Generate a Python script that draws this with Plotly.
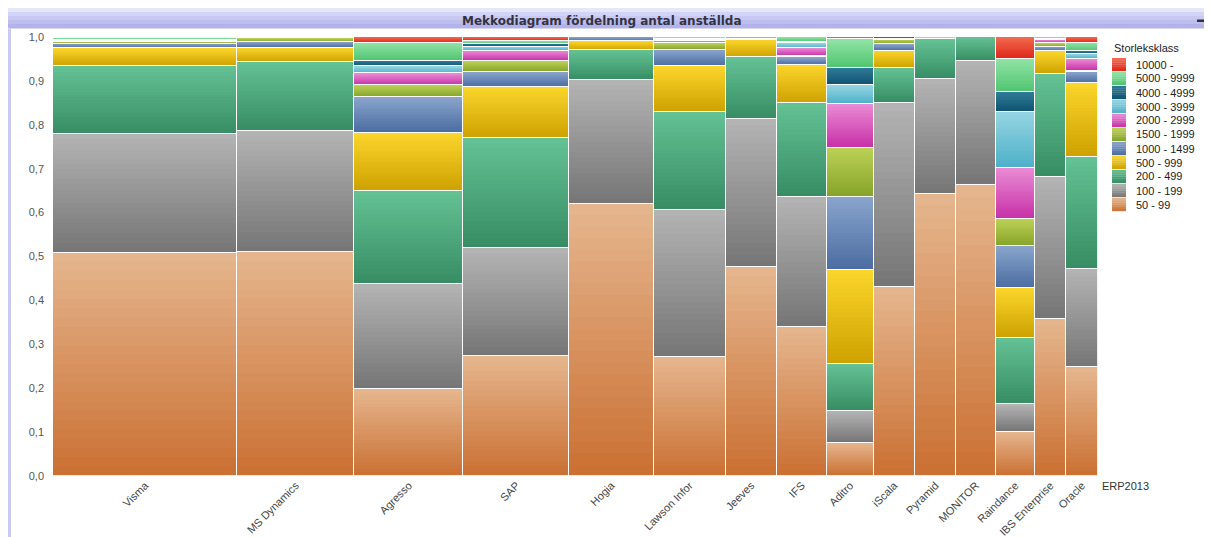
import plotly.graph_objects as go

# ---------------- data ----------------
categories = ["Visma", "MS Dynamics", "Agresso", "SAP", "Hogia", "Lawson Infor",
              "Jeeves", "IFS", "Aditro", "iScala", "Pyramid", "MONITOR",
              "Raindance", "IBS Enterprise", "Oracle"]
# column widths (number of companies per ERP system)
widths = [184, 117, 109, 106, 84, 72, 51, 50, 47, 41, 41, 40, 39, 31, 32]

size_classes = ["50 - 99", "100 - 199", "200 - 499", "500 - 999", "1000 - 1499",
                "1500 - 1999", "2000 - 2999", "3000 - 3999", "4000 - 4999",
                "5000 - 9999", "10000 -"]

# share of each size class within each ERP column (same order as categories)
s_50_99     = [0.509, 0.511, 0.198, 0.273, 0.620, 0.271, 0.475, 0.340, 0.076, 0.431, 0.643, 0.664, 0.101, 0.357, 0.248]
s_100_199   = [0.269, 0.275, 0.239, 0.246, 0.282, 0.335, 0.338, 0.295, 0.072, 0.419, 0.261, 0.282, 0.062, 0.323, 0.223]
s_200_499   = [0.156, 0.157, 0.212, 0.250, 0.068, 0.224, 0.141, 0.214, 0.106, 0.080, 0.091, 0.054, 0.152, 0.236, 0.256]
s_500_999   = [0.040, 0.033, 0.133, 0.117, 0.020, 0.103, 0.040, 0.087, 0.216, 0.039, 0.005, 0.000, 0.113, 0.051, 0.168]
s_1000_1499 = [0.011, 0.013, 0.081, 0.034, 0.010, 0.038, 0.001, 0.018, 0.165, 0.014, 0.000, 0.000, 0.095, 0.011, 0.026]
s_1500_1999 = [0.004, 0.008, 0.027, 0.026, 0.000, 0.015, 0.000, 0.003, 0.113, 0.011, 0.000, 0.000, 0.063, 0.008, 0.002]
s_2000_2999 = [0.002, 0.002, 0.027, 0.023, 0.000, 0.005, 0.004, 0.018, 0.100, 0.000, 0.000, 0.000, 0.116, 0.008, 0.028]
s_3000_3999 = [0.002, 0.000, 0.016, 0.009, 0.000, 0.003, 0.000, 0.011, 0.042, 0.002, 0.000, 0.000, 0.128, 0.001, 0.010]
s_4000_4999 = [0.001, 0.000, 0.013, 0.006, 0.000, 0.001, 0.000, 0.003, 0.040, 0.004, 0.000, 0.000, 0.044, 0.000, 0.007]
s_5000_9999 = [0.004, 0.001, 0.041, 0.007, 0.000, 0.004, 0.001, 0.011, 0.065, 0.000, 0.000, 0.000, 0.077, 0.005, 0.019]
s_10000     = [0.002, 0.000, 0.013, 0.009, 0.000, 0.001, 0.000, 0.000, 0.005, 0.000, 0.000, 0.000, 0.049, 0.000, 0.013]

series = [s_50_99, s_100_199, s_200_499, s_500_999, s_1000_1499, s_1500_1999,
          s_2000_2999, s_3000_3999, s_4000_4999, s_5000_9999, s_10000]

# gradient colours per class: (top, bottom)
grad_top = ["#E6B68F", "#B4B4B4", "#64C295", "#FBD62C", "#8AA5CC", "#BBD256",
            "#EA8CD5", "#96D5E3", "#307C98", "#92E4A6", "#F36C50"]
grad_bot = ["#CA7032", "#757575", "#378C63", "#CDA100", "#4A6CA1", "#85A228",
            "#C630A7", "#4CB0C8", "#0E5270", "#4FC46F", "#DE261A"]

# ---------------- geometry helpers ----------------
OFF = 8                                  # page body margin of the html page
W, H = 1212 - OFF, 537 - OFF
L, R, T, B = 53 - OFF, 1098 - OFF, 37 - OFF, 476 - OFF   # plot area (figure px)
PW, PH = R - L, B - T

def px(x):            # page pixel x -> paper
    return (x - OFF - L) / PW

def py(y):            # page pixel y -> paper
    return (B - (y - OFF)) / PH

def hex2rgb(h):
    h = h.lstrip("#")
    return [int(h[i:i + 2], 16) for i in (0, 2, 4)]

def mix(c_bot, c_top, t):
    a, b = hex2rgb(c_bot), hex2rgb(c_top)
    return "rgb(%d,%d,%d)" % tuple(round(a[i] + (b[i] - a[i]) * t) for i in range(3))

# normalise each column so shares sum to 1
totals = [sum(s[i] for s in series) for i in range(len(categories))]
lefts = []
acc = 0
for w in widths:
    lefts.append(acc)
    acc += w
total_w = acc
mids = [l + w / 2 for l, w in zip(lefts, widths)]

N_STEPS = 24
fig = go.Figure()
# gradient-filled segments (each segment split into equal slices, dark bottom -> light top)
for name, vals, top, bot in zip(size_classes, series, grad_top, grad_bot):
    shares = [v / t for v, t in zip(vals, totals)]
    for k in range(N_STEPS):
        col = mix(bot, top, (k + 0.5) / N_STEPS)
        fig.add_trace(go.Bar(
            x=mids, y=[s / N_STEPS for s in shares], width=widths,
            marker=dict(color=col, line=dict(color=col, width=0.4)),
            showlegend=False, hoverinfo="skip",
        ))
# white segment outlines on an overlaid axis
for name, vals in zip(size_classes, series):
    fig.add_trace(go.Bar(
        x=mids, y=[v / t for v, t in zip(vals, totals)], width=widths, name=name,
        xaxis="x2",
        marker=dict(color="rgba(0,0,0,0)", line=dict(color="rgba(255,255,255,0.85)", width=1)),
        showlegend=False, hovertemplate="%{y:.3f}<extra>" + name + "</extra>",
    ))

shapes = []
annotations = []

def band(y0, y1, col):
    shapes.append(dict(type="rect", xref="paper", yref="paper", x0=px(8), x1=px(1240),
                       y0=py(y1), y1=py(y0), fillcolor=col, line=dict(width=0), layer="below"))

# window frame / title bar
band(8, 12, "#E6E6FA")
band(12, 16, "#D3D3F6")
band(16, 20, "#C8C8F2")
band(20, 24, "#BDBDEE")
band(24, 28.5, "#B3B3EB")
shapes.append(dict(type="rect", xref="paper", yref="paper", x0=px(8), x1=px(11),
                   y0=py(560), y1=py(28.5), fillcolor="#C9C9F2", line=dict(width=0), layer="below"))
shapes.append(dict(type="rect", xref="paper", yref="paper", x0=px(1197), x1=px(1204),
                   y0=py(22), y1=py(19.5), fillcolor="#333333", line=dict(width=0)))
annotations.append(dict(text="Mekkodiagram fördelning antal anställda", xref="paper", yref="paper",
                        x=px(602), y=py(20.5), showarrow=False, xanchor="center", yanchor="middle",
                        font=dict(family="DejaVu Sans", size=12, color="#333340", weight="bold")))

# axis caption
annotations.append(dict(text="ERP2013", xref="paper", yref="paper", x=px(1100), y=py(486),
                        showarrow=False, xanchor="left", yanchor="middle",
                        font=dict(family="Liberation Sans", size=11, color="#333333")))

# manual legend
annotations.append(dict(text="Storleksklass", xref="paper", yref="paper", x=px(1112), y=py(48),
                        showarrow=False, xanchor="left", yanchor="middle",
                        font=dict(family="Liberation Sans", size=11, color="#222222")))
for k, (name, top, bot) in enumerate(zip(size_classes[::-1], grad_top[::-1], grad_bot[::-1])):
    cy = 64.5 + k * 14.0
    n_sw = 6
    for j in range(n_sw):
        y_hi = cy - 6.5 + j * 13 / n_sw
        y_lo = y_hi + 13 / n_sw
        shapes.append(dict(type="rect", xref="paper", yref="paper", x0=px(1112), x1=px(1126),
                           y0=py(y_lo + 0.2), y1=py(y_hi), fillcolor=mix(bot, top, 1 - (j + 0.5) / n_sw),
                           line=dict(width=0)))
    annotations.append(dict(text=name, xref="paper", yref="paper", x=px(1134), y=py(cy),
                            showarrow=False, xanchor="left", yanchor="middle",
                            font=dict(family="Liberation Sans", size=11, color="#222222")))

fig.update_layout(
    width=W, height=H, autosize=False,
    margin=dict(l=L, r=W - R, t=T, b=H - B, pad=0),
    paper_bgcolor="white", plot_bgcolor="white",
    barmode="stack", bargap=0,
    separators=", ",
    showlegend=False,
    shapes=shapes, annotations=annotations,
    xaxis=dict(range=[0, total_w], tickvals=mids, ticktext=categories, tickangle=-45,
               showgrid=False, zeroline=False, showline=False, ticks="", automargin=False,
               tickfont=dict(family="Liberation Sans", size=11, color="#444444"),
               fixedrange=True),
    xaxis2=dict(range=[0, total_w], overlaying="x", visible=False, fixedrange=True),
    yaxis=dict(range=[0, 1], dtick=0.1, tickformat=".1f", showgrid=False, zeroline=False,
               showline=False, ticks="", ticklabelstandoff=8, automargin=False,
               tickfont=dict(family="Liberation Sans", size=11, color="#555555"),
               fixedrange=True),
)

fig.write_html("out.html")
